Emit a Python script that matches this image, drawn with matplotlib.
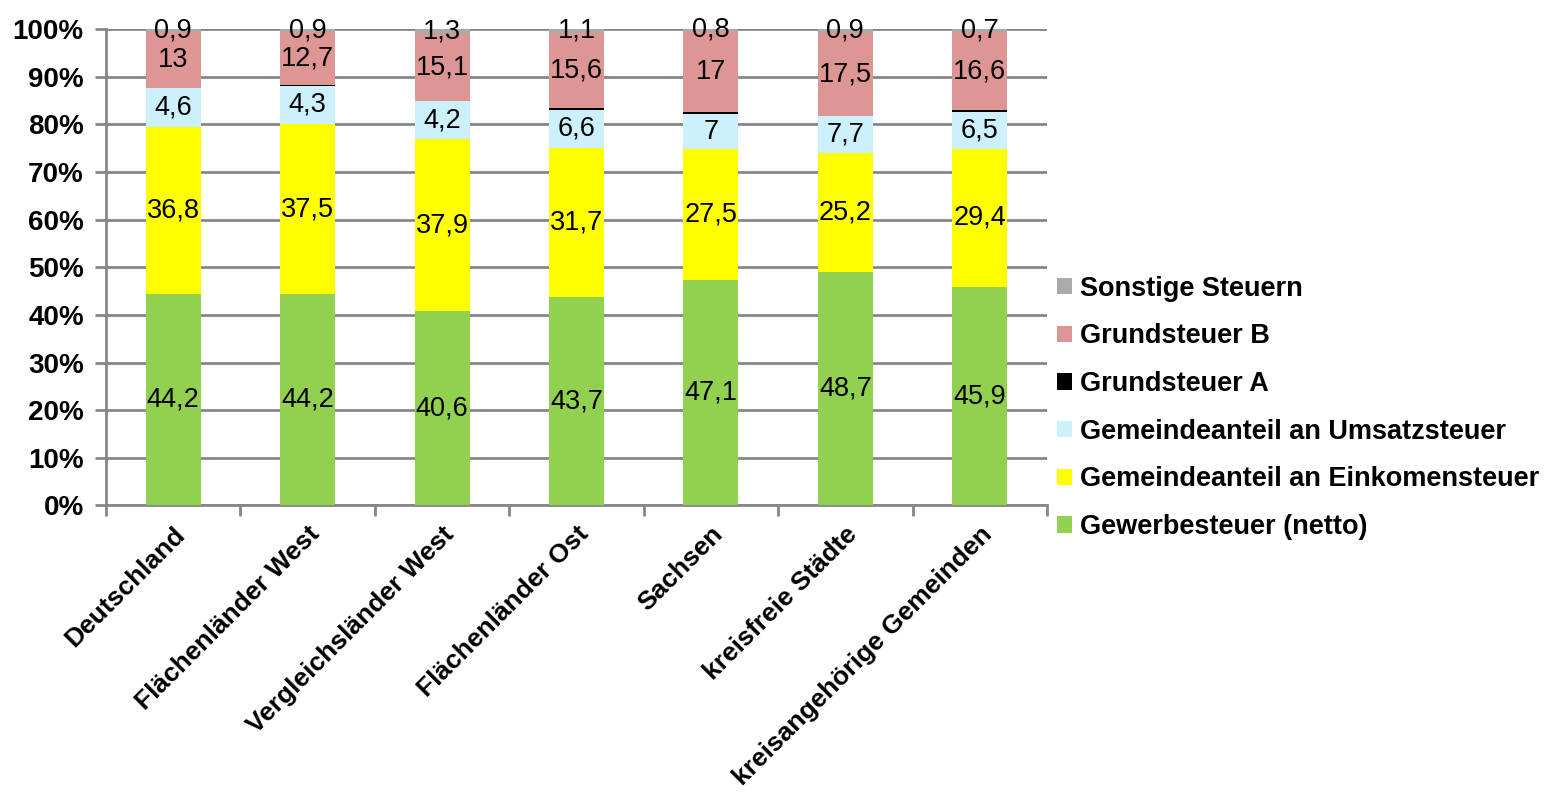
import numpy as np
import matplotlib
matplotlib.use("Agg")
import matplotlib.pyplot as plt

plt.rcParams['font.family'] = ['Liberation Sans', 'DejaVu Sans']

regionen = ["Deutschland", "Flächenländer West", "Vergleichsländer West", "Flächenländer Ost",
            "Sachsen", "kreisfreie Städte", "kreisangehörige Gemeinden"]

# Segmenthöhen in %
gewerbe = [44.3, 44.3, 40.8, 43.8, 47.3, 48.9, 45.9]
einkommen = [35.2, 35.8, 36.1, 31.3, 27.5, 25.1, 28.9]
umsatz = [8.1, 8.0, 8.0, 7.9, 7.3, 7.8, 7.8]
grund_a = [0.1, 0.1, 0.0, 0.5, 0.4, 0.0, 0.3]
grund_b = [11.7, 11.2, 14.0, 15.7, 17.1, 17.4, 16.4]
sonstige = [0.6, 0.6, 1.1, 0.8, 0.4, 0.8, 0.7]

# Beschriftungen wie im Original
lab_gewerbe = ["44,2", "44,2", "40,6", "43,7", "47,1", "48,7", "45,9"]
lab_einkommen = ["36,8", "37,5", "37,9", "31,7", "27,5", "25,2", "29,4"]
lab_umsatz = ["4,6", "4,3", "4,2", "6,6", "7", "7,7", "6,5"]
lab_grund_b = ["13", "12,7", "15,1", "15,6", "17", "17,5", "16,6"]
lab_sonstige = ["0,9", "0,9", "1,3", "1,1", "0,8", "0,9", "0,7"]

serien = [
    ("Gewerbesteuer (netto)", gewerbe, "#92D050", lab_gewerbe),
    ("Gemeindeanteil an Einkomensteuer", einkommen, "#FFFF00", lab_einkommen),
    ("Gemeindeanteil an Umsatzsteuer", umsatz, "#CCF0FC", lab_umsatz),
    ("Grundsteuer A", grund_a, "#000000", None),
    ("Grundsteuer B", grund_b, "#DE9694", lab_grund_b),
    ("Sonstige Steuern", sonstige, "#AAAAAA", lab_sonstige),
]

fig = plt.figure(figsize=(15.48, 7.95), dpi=100)
ax = fig.add_axes([0.0685, 0.3642, 0.6078, 0.5993])

x = np.arange(len(regionen))
unten = np.zeros(len(regionen))
handles = []
for name, werte, farbe, labels in serien:
    werte = np.array(werte)
    b = ax.bar(x, werte, 0.41, bottom=unten, color=farbe, label=name, zorder=3)
    handles.append(b)
    if labels is not None:
        for xi, u, h, t in zip(x, unten, werte, labels):
            ax.text(xi, u + h / 2, t, ha="center", va="center", fontsize=19.5, zorder=4)
    unten = unten + werte

ax.set_xlim(-0.5, len(regionen) - 0.5)
ax.set_ylim(0, 100)
ax.set_yticks(np.arange(0, 101, 10))
ax.set_yticklabels([f"{v}%" for v in range(0, 101, 10)], fontsize=20, fontweight="bold")
ax.grid(axis="y", color="#878787", linewidth=2, zorder=0)

ax.set_xticks(x)
ax.set_xticklabels(regionen, rotation=45, ha="right", rotation_mode="anchor",
                   fontsize=19, fontweight="bold")
ax.set_xticks(np.arange(-0.5, len(regionen), 1), minor=True)
ax.tick_params(axis="x", which="major", length=0, pad=12)
ax.tick_params(axis="x", which="minor", length=8, width=2, color="#878787")
ax.tick_params(axis="y", length=8, width=2, color="#878787", pad=8)

for s in ["top", "right"]:
    ax.spines[s].set_visible(False)
for s in ["left", "bottom"]:
    ax.spines[s].set_color("#878787")
    ax.spines[s].set_linewidth(2)

ax.legend(handles[::-1], [s[0] for s in serien][::-1], loc="center left",
          bbox_to_anchor=(1.011, 0.205), frameon=False, prop={"size": 19.5, "weight": "bold"},
          handlelength=0.55, handleheight=0.55, handletextpad=0.3, labelspacing=0.8,
          borderpad=0, borderaxespad=0)

fig.savefig("out.png", dpi=100)
